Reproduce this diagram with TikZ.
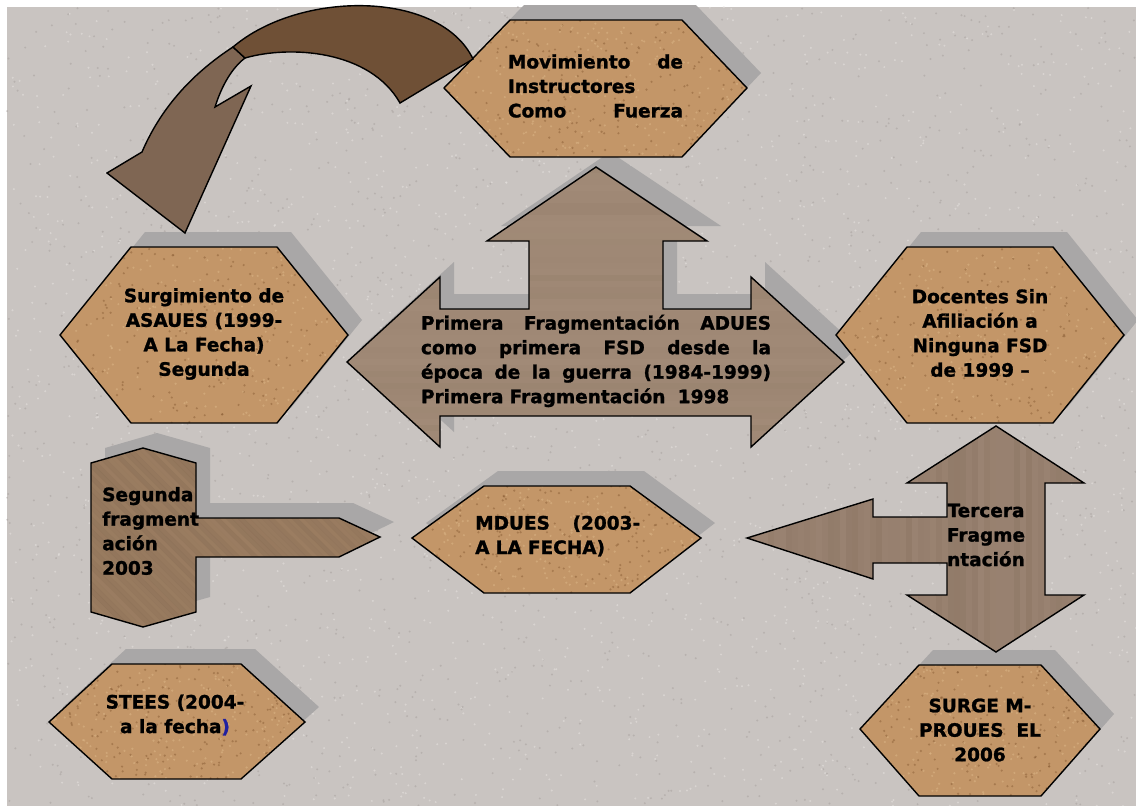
\documentclass[tikz,border=0pt]{standalone}
\usepackage{fontspec}
\setmainfont{DejaVu Sans}[BoldFeatures={FakeBold=1.3}]
\definecolor{bgstone}{HTML}{C9C4C1}
\definecolor{bgdark}{HTML}{A29C99}
\definecolor{bglight}{HTML}{E4E0DD}
\definecolor{cork}{HTML}{C39668}
\definecolor{corkdark}{HTML}{8A5E36}
\definecolor{corklight}{HTML}{D9B384}
\definecolor{woodc}{HTML}{A28B78}
\definecolor{woodl}{HTML}{9C7E62}
\definecolor{woodr}{HTML}{9B8473}
\definecolor{grain}{HTML}{6E5844}
\definecolor{bandc}{HTML}{6F5036}
\definecolor{headc}{HTML}{7F6653}
\definecolor{shadowgrey}{HTML}{A9A7A7}
\definecolor{parenblue}{HTML}{2020A0}
\tikzset{
  outline/.style={draw=black, line width=1.4pt, line join=miter},
  hexshape/.style={outline, fill=cork},
  shadowshape/.style={fill=shadowgrey, draw=none},
  grainline/.style={draw=grain, line width=6.2pt},
  lbl/.style={font=\bfseries\fontsize{18.5}{24.5}\selectfont, inner sep=0pt, text=black},
}
\begin{document}
\begin{tikzpicture}[x=1pt,y=-1pt]
\useasboundingbox (0,0) rectangle (1136,806);
\fill[white] (0,0) rectangle (1136,806);
\fill[bgstone] (7,7) rectangle (1136,806);
\pgfmathsetseed{7}
\foreach \i in {1,...,1800}{
  \fill[bgdark, opacity=0.45] ({7+rnd*1129},{7+rnd*799}) circle (1.1);
  \fill[bglight, opacity=0.6] ({7+rnd*1129},{7+rnd*799}) circle (1.1);
}

% ---- shadows ----
\foreach \a/\b/\c/\d/\t/\m/\u in {444/510/682/747/20/88/157, 60/131/277/348/247/335/423, 836/907/1053/1124/247/335/423, 412/484/630/701/486/538/593, 49/112/241/305/664/722/779, 860/919/1041/1100/665/729/796}{
  \fill[shadowshape] (\a+14,\m-15) -- (\b+14,\t-15) -- (\c+14,\t-15) -- (\d+14,\m-15) -- (\c+14,\u-15) -- (\b+14,\u-15) -- cycle;
}
\begin{scope}[shift={(14,-15)}]
  \fill[shadowshape] (596,167) -- (707,241) -- (663,241) -- (663,309) -- (751,309) -- (751,277) -- (844,362) -- (751,447) -- (751,416) -- (440,416) -- (440,447) -- (347,362) -- (440,277) -- (440,309) -- (529,309) -- (529,241) -- (487,241) -- cycle;
  \fill[shadowshape] (143,448) -- (196,463) -- (196,518) -- (339,518) -- (380,537) -- (339,557) -- (196,557) -- (196,612) -- (143,627) -- (91,612) -- (91,463) -- cycle;
\end{scope}

% ---- hexagons (cork) ----
\foreach \a/\b/\c/\d/\t/\m/\u in {444/510/682/747/20/88/157, 60/131/277/348/247/335/423, 836/907/1053/1124/247/335/423, 412/484/630/701/486/538/593, 49/112/241/305/664/722/779, 860/919/1041/1100/665/729/796}{
  \fill[cork] (\a,\m) -- (\b,\t) -- (\c,\t) -- (\d,\m) -- (\c,\u) -- (\b,\u) -- cycle;
  \begin{scope}
    \clip (\a,\m) -- (\b,\t) -- (\c,\t) -- (\d,\m) -- (\c,\u) -- (\b,\u) -- cycle;
    \foreach \i in {1,...,220}{
      \fill[corkdark, opacity=0.5] ({\a+rnd*(\d-\a)},{\t+rnd*(\u-\t)}) circle (1.2);
      \fill[corklight, opacity=0.6] ({\a+rnd*(\d-\a)},{\t+rnd*(\u-\t)}) circle (1.2);
    }
  \end{scope}
  \draw[outline] (\a,\m) -- (\b,\t) -- (\c,\t) -- (\d,\m) -- (\c,\u) -- (\b,\u) -- cycle;
}

% ---- central four-way arrow ----
\fill[woodc] (596,167) -- (707,241) -- (663,241) -- (663,309) -- (751,309) -- (751,277) -- (844,362) -- (751,447) -- (751,416) -- (440,416) -- (440,447) -- (347,362) -- (440,277) -- (440,309) -- (529,309) -- (529,241) -- (487,241) -- cycle;
\begin{scope}
  \clip (596,167) -- (707,241) -- (663,241) -- (663,309) -- (751,309) -- (751,277) -- (844,362) -- (751,447) -- (751,416) -- (440,416) -- (440,447) -- (347,362) -- (440,277) -- (440,309) -- (529,309) -- (529,241) -- (487,241) -- cycle;
  \foreach \yy in {170,176,...,450}{
    \draw[grainline, opacity={0.12*rnd}] (347,\yy) -- (844,\yy);
  }
\end{scope}
\draw[outline] (596,167) -- (707,241) -- (663,241) -- (663,309) -- (751,309) -- (751,277) -- (844,362) -- (751,447) -- (751,416) -- (440,416) -- (440,447) -- (347,362) -- (440,277) -- (440,309) -- (529,309) -- (529,241) -- (487,241) -- cycle;

% ---- Segunda fragmentacion arrow ----
\fill[woodl] (143,448) -- (196,463) -- (196,518) -- (339,518) -- (380,537) -- (339,557) -- (196,557) -- (196,612) -- (143,627) -- (91,612) -- (91,463) -- cycle;
\begin{scope}
  \clip (143,448) -- (196,463) -- (196,518) -- (339,518) -- (380,537) -- (339,557) -- (196,557) -- (196,612) -- (143,627) -- (91,612) -- (91,463) -- cycle;
  \foreach \xx in {0,6,...,600}{
    \draw[grainline, line width=4.6pt, opacity={0.2*rnd}] (\xx-100,448) -- (\xx+80,627);
  }
\end{scope}
\draw[outline] (143,448) -- (196,463) -- (196,518) -- (339,518) -- (380,537) -- (339,557) -- (196,557) -- (196,612) -- (143,627) -- (91,612) -- (91,463) -- cycle;

% ---- Tercera fragmentacion arrow ----
\fill[woodr] (996,426) -- (1084,483) -- (1045,483) -- (1045,595) -- (1084,595) -- (996,652) -- (907,595) -- (947,595) -- (947,563) -- (873,563) -- (873,579) -- (747,538) -- (873,499) -- (873,517) -- (947,517) -- (947,483) -- (907,483) -- cycle;
\begin{scope}
  \clip (996,426) -- (1084,483) -- (1045,483) -- (1045,595) -- (1084,595) -- (996,652) -- (907,595) -- (947,595) -- (947,563) -- (873,563) -- (873,579) -- (747,538) -- (873,499) -- (873,517) -- (947,517) -- (947,483) -- (907,483) -- cycle;
  \foreach \xx in {747,753,...,1090}{
    \draw[grainline, opacity={0.2*rnd}] (\xx,426) -- (\xx,652);
  }
\end{scope}
\draw[outline] (996,426) -- (1084,483) -- (1045,483) -- (1045,595) -- (1084,595) -- (996,652) -- (907,595) -- (947,595) -- (947,563) -- (873,563) -- (873,579) -- (747,538) -- (873,499) -- (873,517) -- (947,517) -- (947,483) -- (907,483) -- cycle;

% ---- curved arrow ----
\draw[outline, fill=headc] (233,47) .. controls (190,75) and (160,110) .. (142,152) -- (107,173) -- (185,233) -- (251,86) -- (215,107) .. controls (222,85) and (232,68) .. (245,58) -- cycle;
\draw[outline, fill=bandc] (473,59) .. controls (440,-10) and (300,-10) .. (233,47) -- (245,58) .. controls (290,45) and (370,50) .. (400,103) -- cycle;

% ---- texts ----
\node[lbl, text width=175pt, align=left] (mov) at (595.5,86) {Movimiento\hfill de\\Instructores\\Como\hfill Fuerza};
\node[lbl, align=center] (surg) at (204,334) {Surgimiento de\\ASAUES (1999-\\A La Fecha)\\Segunda};
\node[lbl, text width=350pt, align=left] (adues) at (596,361) {Primera\hfill Fragmentación\hfill ADUES\\como\hfill primera\hfill FSD\hfill desde\hfill la\\época\hfill de\hfill la\hfill guerra\hfill (1984-1999)\\Primera Fragmentación~~1998};
\node[lbl, align=center] (doc) at (980,333) {Docentes Sin\\Afiliación a\\Ninguna FSD\\de 1999 –};
\node[lbl, align=left, anchor=west] (seg) at (102,531) {Segunda\\fragment\\ación\\2003};
\node[lbl, text width=165pt, align=left, anchor=west] (mdues) at (475,536) {MDUES\hfill (2003-\\A LA FECHA)};
\node[lbl, align=center] (terc) at (986,535) {Tercera\\Fragme\\ntación};
\node[lbl, align=center] (stees) at (175,715) {STEES (2004-\\a la fecha\textcolor{parenblue}{)}};
\node[lbl, align=center] (surge) at (980,730) {SURGE M-\\PROUES~~EL\\2006};
\end{tikzpicture}
\end{document}
